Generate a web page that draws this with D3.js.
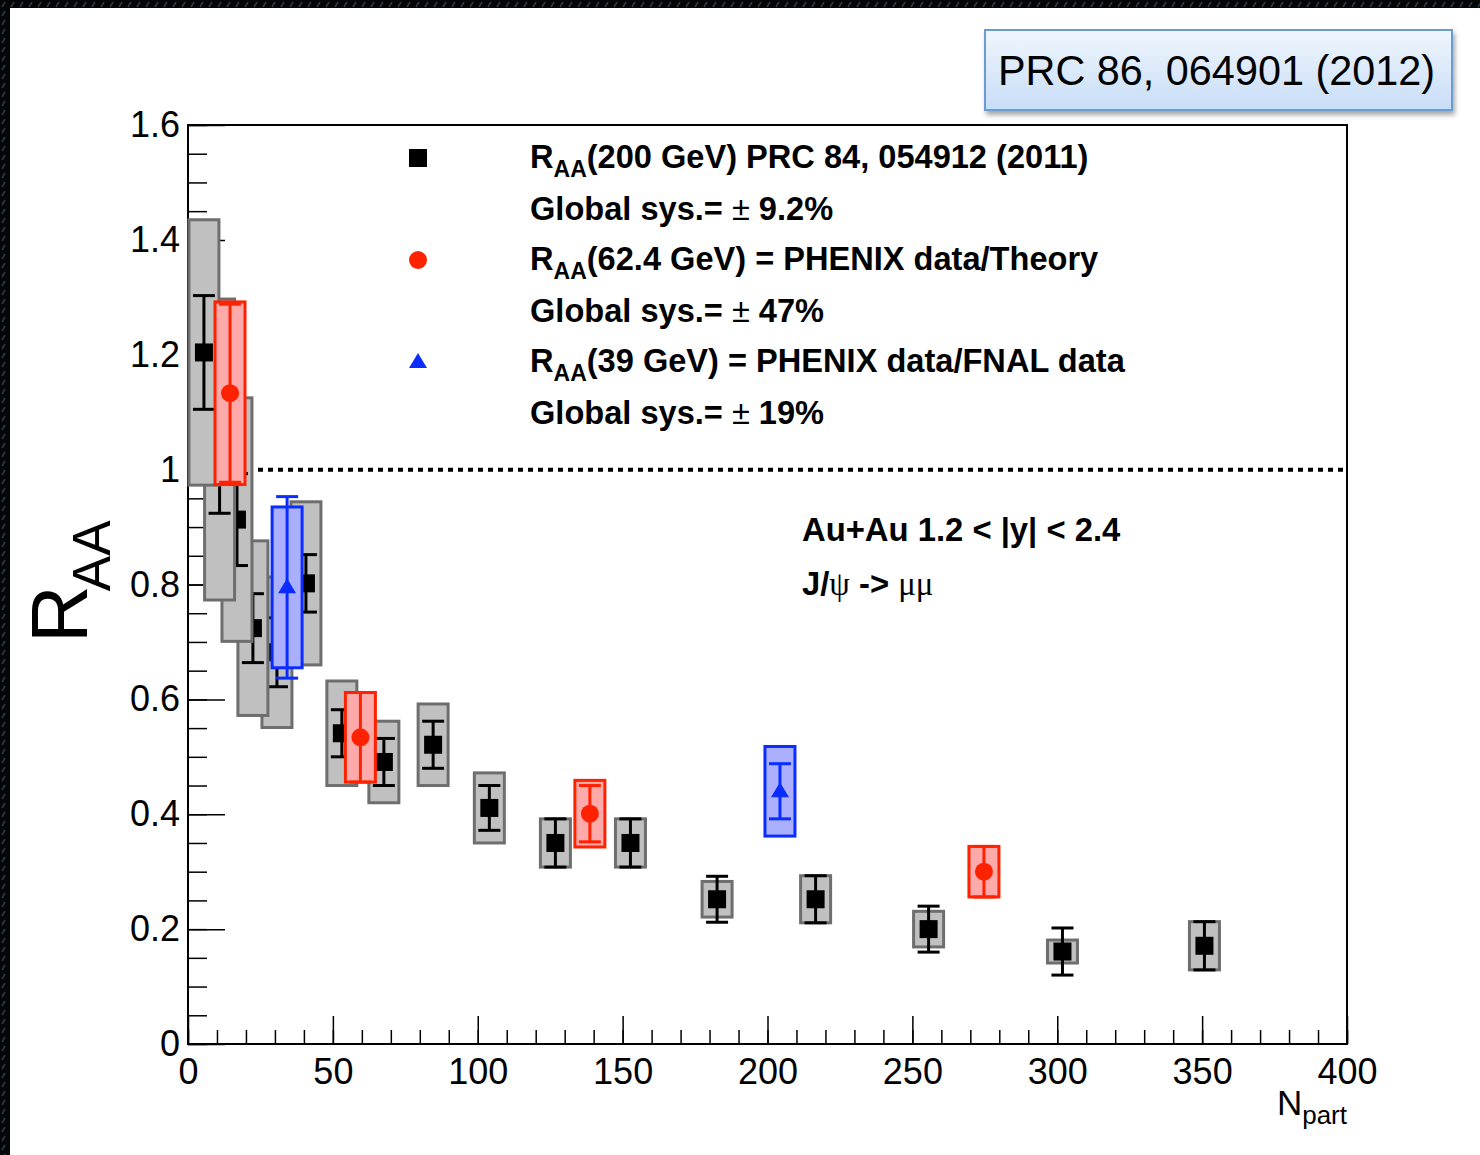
<!DOCTYPE html>
<html>
<head>
<meta charset="utf-8">
<script src="https://cdn.jsdelivr.net/npm/d3@7"></script>
<style>
  html, body { margin: 0; padding: 0; background: #000; }
  svg { display: block; }
  text { font-family: "Liberation Sans", Arial, Helvetica, sans-serif; }
</style>
</head>
<body>
<svg id="chart" width="1480" height="1155"></svg>
<script>
// ---- J/psi R_AA vs N_part, forward rapidity ----

// 200 GeV (black squares): N_part, R_AA, statistical and systematic errors
const npart200 = [350.8, 301.8, 255.6, 216.6, 182.6, 152.7, 126.8, 104.0, 84.6, 67.6, 53.1, 40.7, 30.7, 22.4, 16.9, 10.9, 5.5];
const raa200   = [0.171, 0.161, 0.200, 0.252, 0.252, 0.350, 0.350, 0.411, 0.521, 0.491, 0.541, 0.802, 0.682, 0.724, 0.913, 1.035, 1.204];
const stat200  = [0.042, 0.041, 0.040, 0.041, 0.040, 0.042, 0.042, 0.039, 0.041, 0.041, 0.041, 0.050, 0.060, 0.060, 0.080, 0.111, 0.099];
const sys200   = [0.042, 0.020, 0.031, 0.041, 0.031, 0.042, 0.042, 0.061, 0.071, 0.071, 0.091, 0.142, 0.131, 0.152, 0.212, 0.262, 0.231];

// 62.4 GeV (red circles)
const npart62 = [274.7, 138.7, 59.5, 14.5];
const raa62   = [0.300, 0.401, 0.534, 1.133];
const stat62  = [0.044, 0.049, 0.078, 0.155];
const sys62   = [0.044, 0.058, 0.078, 0.159];

// 39 GeV (blue triangles)
const npart39 = [204.3, 34.2];
const raa39   = [0.440, 0.795];
const stat39  = [0.048, 0.158];
const sys39   = [0.078, 0.140];

// axis ticks
const xMajorTicks = [0, 50, 100, 150, 200, 250, 300, 350, 400];
const xMinorTicks = d3.range(0, 401, 10);
const yMajorTicks = [0, 0.2, 0.4, 0.6, 0.8, 1.0, 1.2, 1.4, 1.6];
const yMinorTicks = d3.range(0, 1.6001, 0.05);

// legend entries
const legendRows = [
  { kind: "square",   sub: true,  pre: "R", post: "(200 GeV) PRC 84, 054912 (2011)" },
  { kind: null,       sub: false, pre: "Global sys.=", pm: true, post: " 9.2%" },
  { kind: "circle",   sub: true,  pre: "R", post: "(62.4 GeV) = PHENIX data/Theory" },
  { kind: null,       sub: false, pre: "Global sys.=", pm: true, post: " 47%" },
  { kind: "triangle", sub: true,  pre: "R", post: "(39 GeV) = PHENIX data/FNAL data" },
  { kind: null,       sub: false, pre: "Global sys.=", pm: true, post: " 19%" }
];

const svg = d3.select("#chart");
const W = 1480, H = 1155;
const plot = { left: 188, right: 1347, top: 125, bottom: 1044 };

// ---- dark textured frame + white page ----
const defs = svg.append("defs");
const pat = defs.append("pattern").attr("id", "frameTex")
  .attr("patternUnits", "userSpaceOnUse").attr("width", 9).attr("height", 9);
pat.append("rect").attr("width", 9).attr("height", 9).attr("fill", "#030507");
pat.append("path").attr("d", "M2,7 L5,2").attr("stroke", "#2a3946").attr("stroke-width", 1.6);

const grad = defs.append("linearGradient").attr("id", "refBoxFill")
  .attr("x1", 0).attr("y1", 0).attr("x2", 0).attr("y2", 1);
grad.append("stop").attr("offset", "0%").attr("stop-color", "#f0f6fd");
grad.append("stop").attr("offset", "100%").attr("stop-color", "#c8ddf7");

const shadow = defs.append("filter").attr("id", "softShadow")
  .attr("x", "-10%").attr("y", "-20%").attr("width", "130%").attr("height", "160%");
shadow.append("feDropShadow").attr("dx", 2).attr("dy", 4).attr("stdDeviation", 2.5)
  .attr("flood-color", "#000").attr("flood-opacity", 0.35);

svg.append("rect").attr("width", W).attr("height", H).attr("fill", "url(#frameTex)");
svg.append("rect").attr("x", 10).attr("y", 8).attr("width", W - 10).attr("height", H - 8).attr("fill", "#fff");

// ---- scales ----
const x = d3.scaleLinear().domain([0, 400]).range([plot.left, plot.right]);
const y = d3.scaleLinear().domain([0, 1.6]).range([plot.bottom, plot.top]);

// ---- axes ----
const fmtY = d => (d === 0 ? "0" : d === 1 ? "1" : d3.format(".1f")(d));

const gxMinor = svg.append("g").attr("transform", `translate(0,${plot.bottom})`)
  .call(d3.axisBottom(x).tickValues(xMinorTicks).tickSize(-14).tickFormat(""));
const gxMajor = svg.append("g").attr("transform", `translate(0,${plot.bottom})`)
  .call(d3.axisBottom(x).tickValues(xMajorTicks).tickSize(-28).tickPadding(14).tickFormat(d3.format("d")));
const gyMinor = svg.append("g").attr("transform", `translate(${plot.left},0)`)
  .call(d3.axisLeft(y).tickValues(yMinorTicks).tickSize(-19).tickFormat(""));
const gyMajor = svg.append("g").attr("transform", `translate(${plot.left},0)`)
  .call(d3.axisLeft(y).tickValues(yMajorTicks).tickSize(-37).tickPadding(8).tickFormat(fmtY));

[gxMinor, gxMajor, gyMinor, gyMajor].forEach(g => {
  g.select(".domain").remove();
  g.selectAll(".tick line").attr("stroke", "#000").attr("stroke-width", 1.5);
  g.selectAll(".tick text").attr("fill", "#000").attr("font-size", 36)
    .attr("font-family", "'Liberation Sans', Arial, sans-serif");
});

// frame
svg.append("rect")
  .attr("x", plot.left).attr("y", plot.top)
  .attr("width", plot.right - plot.left).attr("height", plot.bottom - plot.top)
  .attr("fill", "none").attr("stroke", "#000").attr("stroke-width", 2);

// R_AA = 1 reference
svg.append("line")
  .attr("x1", x(0)).attr("x2", x(400)).attr("y1", y(1)).attr("y2", y(1))
  .attr("stroke", "#000").attr("stroke-width", 4).attr("stroke-dasharray", "5,5");

// ---- data points with systematic boxes and statistical bars ----
const BOX_HALF = 15, CAP_HALF = 11;

function drawSeries(npart, raa, stat, sys, style) {
  const g = svg.append("g");
  npart.forEach((n, i) => {
    const cx = x(n), v = raa[i];
    const pg = g.append("g");
    pg.append("rect")
      .attr("x", cx - BOX_HALF).attr("width", 2 * BOX_HALF)
      .attr("y", y(v + sys[i])).attr("height", y(v - sys[i]) - y(v + sys[i]))
      .attr("fill", style.boxFill).attr("stroke", style.boxStroke).attr("stroke-width", 3);
    const yt = y(v + stat[i]), yb = y(v - stat[i]);
    pg.append("line").attr("x1", cx).attr("x2", cx).attr("y1", yt).attr("y2", yb)
      .attr("stroke", style.bar).attr("stroke-width", 3);
    [yt, yb].forEach(yy => pg.append("line")
      .attr("x1", cx - CAP_HALF).attr("x2", cx + CAP_HALF).attr("y1", yy).attr("y2", yy)
      .attr("stroke", style.bar).attr("stroke-width", 3));
    drawMarker(pg, style.marker, cx, y(v), style.color);
  });
}

function drawMarker(g, kind, cx, cy, color) {
  if (kind === "square") {
    g.append("rect").attr("x", cx - 9).attr("y", cy - 9).attr("width", 18).attr("height", 18).attr("fill", color);
  } else if (kind === "circle") {
    g.append("circle").attr("cx", cx).attr("cy", cy).attr("r", 9).attr("fill", color);
  } else if (kind === "triangle") {
    g.append("path").attr("d", `M${cx},${cy - 9} L${cx + 9},${cy + 6} L${cx - 9},${cy + 6} Z`).attr("fill", color);
  }
}

drawSeries(npart200, raa200, stat200, sys200,
  { boxFill: "#c0c0c0", boxStroke: "#6e6e6e", bar: "#000", marker: "square", color: "#000" });
drawSeries(npart62, raa62, stat62, sys62,
  { boxFill: "#ffaaaa", boxStroke: "#ff2200", bar: "#ff2200", marker: "circle", color: "#ff2200" });
drawSeries(npart39, raa39, stat39, sys39,
  { boxFill: "#aab0ff", boxStroke: "#0a2cff", bar: "#0a2cff", marker: "triangle", color: "#0a2cff" });

// ---- legend ----
const legColors = { square: "#000", circle: "#ff2200", triangle: "#0a2cff" };
const legBase = [168, 220, 270, 322, 372, 424];
const legG = svg.append("g");
legendRows.forEach((r, i) => {
  const base = legBase[i];
  if (r.kind) drawMarker(legG, r.kind, 418, base - 10, legColors[r.kind]);
  const t = legG.append("text").attr("x", 530).attr("y", base)
    .attr("font-size", 32.6).attr("font-weight", "bold").attr("fill", "#000");
  t.append("tspan").text(r.pre);
  if (r.sub) {
    t.append("tspan").attr("font-size", 23).attr("dy", 9).text("AA");
    t.append("tspan").attr("dy", -9).text(r.post);
  } else {
    t.append("tspan").text(" ");
    t.append("tspan").attr("font-weight", "normal").text("\u00b1");
    t.append("tspan").text(r.post);
  }
});

// ---- collision system annotation ----
svg.append("text").attr("x", 802).attr("y", 541)
  .attr("font-size", 32.8).attr("font-weight", "bold").text("Au+Au 1.2 < |y| < 2.4");
const jt = svg.append("text").attr("x", 802).attr("y", 595).attr("font-size", 32.8).attr("font-weight", "bold");
jt.append("tspan").text("J/");
jt.append("tspan").attr("font-family", "'Liberation Serif', 'DejaVu Serif', serif").attr("font-weight", "normal").text("\u03c8");
jt.append("tspan").text(" -> ");
jt.append("tspan").attr("font-family", "'Liberation Serif', 'DejaVu Serif', serif").attr("font-weight", "normal").text("\u03bc\u03bc");

// ---- axis titles ----
const yt = svg.append("text").attr("transform", "translate(87,643) rotate(-90)")
  .attr("font-size", 80).attr("fill", "#000");
yt.append("tspan").text("R");
yt.append("tspan").attr("font-size", 53).attr("dy", 23).attr("dx", -6).text("AA");

const xt = svg.append("text").attr("x", 1347).attr("y", 1115).attr("text-anchor", "end")
  .attr("font-size", 35).attr("fill", "#000");
xt.append("tspan").text("N");
xt.append("tspan").attr("font-size", 26).attr("dy", 9).text("part");

// ---- reference box ----
svg.append("rect").attr("x", 985).attr("y", 30).attr("width", 467).attr("height", 80)
  .attr("fill", "url(#refBoxFill)").attr("stroke", "#6a9bd2").attr("stroke-width", 2)
  .attr("filter", "url(#softShadow)");
svg.append("text").attr("x", 998).attr("y", 85)
  .attr("font-family", "Lato, 'Open Sans', sans-serif").attr("font-size", 43).attr("fill", "#000")
  .attr("textLength", 437).attr("lengthAdjust", "spacingAndGlyphs")
  .text("PRC 86, 064901 (2012)");
</script>
</body>
</html>
